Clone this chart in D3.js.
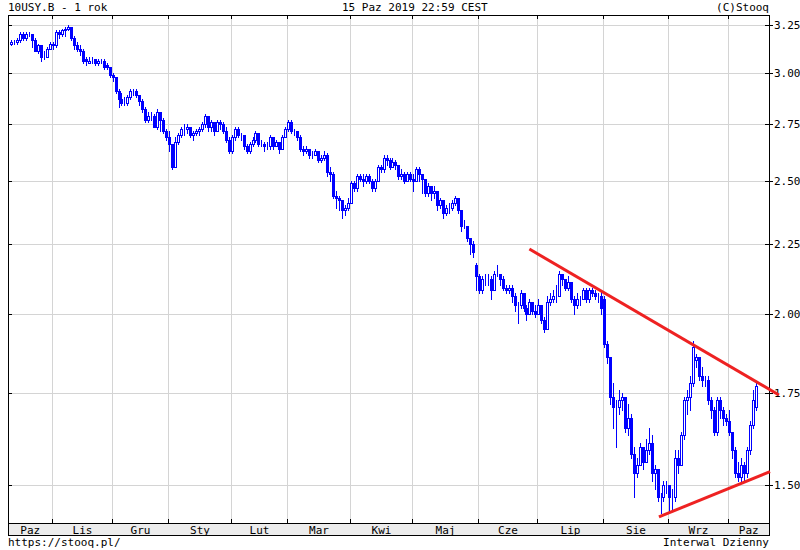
<!DOCTYPE html>
<html><head><meta charset="utf-8">
<script src="https://cdn.jsdelivr.net/npm/d3@7/dist/d3.min.js"></script>
<style>
body{margin:0;background:#fff}
svg{display:block}
text{font-family:"DejaVu Sans Mono",monospace;font-size:11px;fill:#000}
</style>
</head><body>
<svg id="chart" width="800" height="550"></svg>
<script>
// ---- data ----
const title = "10USY.B - 1 rok";
const stamp = "15 Paz 2019 22:59 CEST";
const copyright = "(C)Stooq";
const footerLeft = "https://stooq.pl/";
const footerRight = "Interwal Dzienny";
const startDate = "2018-10-12", endDate = "2019-10-15";
const holidays = ["2018-11-12","2018-11-22","2018-12-05","2018-12-25","2019-01-01","2019-01-21",
  "2019-02-18","2019-04-19","2019-05-27","2019-07-04","2019-09-02","2019-10-14"];
const monthLabels = ["Sty","Lut","Mar","Kwi","Maj","Cze","Lip","Sie","Wrz","Paz","Lis","Gru"];
const yTicks = [1.50,1.75,2.00,2.25,2.50,2.75,3.00,3.25];

const open = [
 3.15,3.16,3.16,3.17,3.20,3.18,3.20,3.20,3.17,3.11,3.14,3.08,3.08,3.12,
 3.15,3.14,3.21,3.20,3.22,3.23,3.24,3.18,3.14,3.12,3.11,3.07,3.05,3.06,3.07,3.05,3.06,3.06,3.04,3.03,
 2.99,2.98,2.91,2.87,2.85,2.85,2.88,2.91,2.91,2.89,2.86,2.82,2.77,2.79,2.79,2.74,2.81,2.77,2.72,
 2.69,2.66,2.56,2.67,2.70,2.73,2.73,2.74,2.70,2.71,2.72,2.73,2.75,2.79,2.74,2.76,2.72,2.76,2.75,2.72,2.68,
 2.63,2.69,2.73,2.70,2.70,2.65,2.63,2.66,2.68,2.71,2.66,2.66,2.65,2.65,2.69,2.65,2.67,2.64,2.69,
 2.73,2.76,2.72,2.72,2.69,2.64,2.63,2.64,2.61,2.61,2.63,2.59,2.60,2.61,2.54,2.53,2.44,2.43,2.42,2.38,2.39,
 2.41,2.49,2.47,2.52,2.51,2.50,2.52,2.50,2.47,2.50,2.56,2.55,2.60,2.59,2.56,2.58,2.57,2.52,2.53,2.50,2.53,
 2.51,2.50,2.55,2.53,2.51,2.45,2.48,2.45,2.46,2.40,2.42,2.37,2.39,2.39,2.41,2.43,2.38,2.32,2.32,2.27,2.25,2.17,
 2.13,2.08,2.12,2.12,2.12,2.08,2.14,2.14,2.12,2.09,2.08,2.09,2.06,2.03,2.03,2.07,2.02,2.00,2.04,2.01,
 2.00,2.03,1.98,1.95,2.04,2.05,2.06,2.06,2.14,2.12,2.09,2.11,2.05,2.03,2.05,2.05,2.08,2.05,2.08,2.07,2.06,2.06,
 2.05,1.90,1.86,1.74,1.71,1.71,1.73,1.74,1.65,1.68,1.58,1.53,1.55,1.60,1.56,1.59,1.61,1.53,1.54,1.47,1.47,1.50,
 1.50,1.47,1.47,1.57,1.55,1.63,1.73,1.74,1.78,1.85,1.86,1.80,1.79,1.79,1.73,1.70,1.64,1.73,1.70,1.68,
 1.67,1.64,1.59,1.53,1.52,1.55,1.53,1.59,1.66,1.71
];
const high = [
 3.17,3.17,3.18,3.21,3.21,3.21,3.21,3.20,3.18,3.15,3.14,3.11,3.13,3.16,
 3.16,3.22,3.22,3.23,3.24,3.25,3.24,3.19,3.16,3.14,3.12,3.08,3.08,3.08,3.07,3.07,3.07,3.07,3.05,3.03,
 3.00,2.98,2.92,2.90,2.88,2.89,2.92,2.92,2.92,2.89,2.87,2.83,2.81,2.81,2.80,2.82,2.81,2.78,2.73,
 2.72,2.66,2.69,2.71,2.74,2.75,2.75,2.74,2.72,2.73,2.74,2.76,2.80,2.79,2.77,2.76,2.77,2.77,2.76,2.74,2.69,
 2.70,2.74,2.74,2.71,2.70,2.66,2.67,2.69,2.72,2.71,2.68,2.67,2.67,2.70,2.69,2.68,2.67,2.70,2.74,
 2.77,2.77,2.73,2.72,2.70,2.65,2.65,2.64,2.63,2.64,2.63,2.61,2.63,2.62,2.56,2.54,2.46,2.44,2.42,2.40,2.43,
 2.50,2.50,2.53,2.53,2.53,2.53,2.53,2.51,2.51,2.57,2.57,2.61,2.61,2.60,2.60,2.59,2.57,2.55,2.54,2.54,2.54,
 2.53,2.56,2.56,2.53,2.51,2.49,2.48,2.48,2.46,2.43,2.42,2.40,2.41,2.42,2.44,2.43,2.38,2.34,2.32,2.27,2.26,2.18,
 2.14,2.13,2.14,2.14,2.13,2.15,2.17,2.14,2.13,2.10,2.10,2.10,2.07,2.04,2.08,2.07,2.03,2.05,2.04,2.03,
 2.05,2.03,1.99,2.06,2.07,2.08,2.10,2.15,2.14,2.12,2.13,2.11,2.06,2.07,2.06,2.09,2.09,2.09,2.09,2.08,2.07,2.08,
 2.06,1.91,1.86,1.78,1.73,1.76,1.75,1.74,1.72,1.69,1.60,1.57,1.61,1.60,1.62,1.65,1.63,1.55,1.54,1.48,1.51,1.51,
 1.50,1.49,1.59,1.59,1.64,1.74,1.76,1.80,1.91,1.87,1.86,1.83,1.80,1.80,1.74,1.71,1.74,1.74,1.71,1.69,
 1.70,1.64,1.60,1.56,1.57,1.56,1.60,1.67,1.76,1.78
];
const low = [
 3.14,3.15,3.15,3.16,3.17,3.17,3.19,3.13,3.11,3.10,3.06,3.07,3.08,3.12,
 3.12,3.13,3.18,3.19,3.19,3.22,3.17,3.12,3.11,3.09,3.05,3.04,3.05,3.05,3.04,3.04,3.05,3.02,3.02,2.98,
 2.96,2.90,2.83,2.84,2.84,2.84,2.87,2.89,2.88,2.84,2.81,2.76,2.76,2.77,2.74,2.73,2.72,2.71,2.68,
 2.63,2.55,2.56,2.66,2.69,2.70,2.71,2.69,2.68,2.70,2.70,2.72,2.74,2.72,2.72,2.70,2.72,2.73,2.71,2.67,2.62,
 2.62,2.68,2.69,2.68,2.64,2.62,2.62,2.65,2.67,2.65,2.65,2.63,2.64,2.64,2.64,2.65,2.62,2.64,2.69,
 2.72,2.71,2.70,2.68,2.63,2.61,2.62,2.60,2.60,2.61,2.58,2.58,2.59,2.52,2.50,2.43,2.39,2.38,2.35,2.36,2.38,
 2.41,2.46,2.46,2.50,2.48,2.49,2.49,2.46,2.46,2.50,2.54,2.54,2.57,2.55,2.56,2.55,2.51,2.51,2.49,2.50,2.50,
 2.46,2.50,2.50,2.45,2.44,2.44,2.42,2.43,2.38,2.39,2.35,2.36,2.37,2.38,2.40,2.37,2.30,2.31,2.26,2.21,2.20,2.08,
 2.07,2.07,2.10,2.10,2.05,2.08,2.13,2.10,2.08,2.07,2.07,2.04,2.01,1.97,2.02,2.01,1.98,2.00,2.00,1.99,
 2.00,1.97,1.94,1.95,2.03,2.04,2.04,2.06,2.10,2.08,2.08,2.04,2.00,2.02,2.03,2.05,2.04,2.04,2.06,2.05,2.04,2.00,
 1.89,1.84,1.72,1.65,1.60,1.69,1.70,1.64,1.63,1.57,1.47,1.52,1.55,1.54,1.56,1.58,1.51,1.49,1.46,1.43,1.46,1.48,
 1.43,1.44,1.46,1.53,1.55,1.62,1.69,1.70,1.77,1.83,1.79,1.77,1.77,1.72,1.68,1.63,1.63,1.68,1.66,1.66,
 1.63,1.57,1.52,1.51,1.51,1.51,1.52,1.58,1.65,1.70
];
const close = [
 3.16,3.16,3.17,3.20,3.18,3.20,3.20,3.17,3.11,3.14,3.08,3.08,3.12,3.15,
 3.14,3.21,3.20,3.22,3.23,3.24,3.18,3.14,3.12,3.11,3.06,3.06,3.06,3.06,3.05,3.06,3.06,3.03,3.03,2.99,
 2.98,2.91,2.87,2.85,2.85,2.88,2.91,2.91,2.89,2.86,2.82,2.77,2.79,2.79,2.74,2.81,2.77,2.72,2.69,
 2.66,2.56,2.67,2.70,2.73,2.73,2.74,2.70,2.71,2.72,2.73,2.75,2.79,2.74,2.76,2.72,2.76,2.75,2.72,2.68,2.63,
 2.69,2.73,2.70,2.70,2.65,2.63,2.66,2.68,2.71,2.66,2.66,2.65,2.65,2.69,2.65,2.67,2.64,2.69,2.73,
 2.76,2.72,2.72,2.69,2.64,2.63,2.64,2.61,2.61,2.63,2.59,2.60,2.61,2.54,2.53,2.44,2.43,2.42,2.38,2.39,2.41,
 2.49,2.47,2.52,2.51,2.50,2.52,2.50,2.47,2.50,2.56,2.55,2.60,2.59,2.56,2.58,2.57,2.52,2.53,2.50,2.53,2.51,
 2.50,2.55,2.53,2.51,2.45,2.48,2.45,2.46,2.40,2.42,2.37,2.39,2.39,2.41,2.43,2.38,2.32,2.32,2.27,2.25,2.22,2.13,
 2.08,2.12,2.12,2.12,2.08,2.14,2.14,2.12,2.09,2.08,2.09,2.06,2.03,2.03,2.07,2.02,2.00,2.04,2.01,2.00,
 2.03,1.98,1.95,2.04,2.05,2.06,2.06,2.14,2.12,2.09,2.11,2.05,2.03,2.05,2.05,2.08,2.05,2.08,2.07,2.06,2.06,2.02,
 1.90,1.86,1.74,1.71,1.71,1.73,1.74,1.65,1.68,1.58,1.53,1.55,1.60,1.56,1.59,1.61,1.53,1.54,1.47,1.47,1.50,1.50,
 1.47,1.47,1.57,1.55,1.63,1.73,1.74,1.78,1.89,1.86,1.80,1.79,1.79,1.73,1.70,1.64,1.73,1.70,1.68,1.67,
 1.64,1.59,1.53,1.52,1.55,1.53,1.59,1.66,1.73,1.77
];
// trend lines drawn on the chart: position in bar units, value in %
const trendStart = [174.3, 217.8];
const trendStartVal = [2.230, 1.4215];
const trendEnd = [258.1, 255.1];
const trendEndVal = [1.745, 1.534];

// ---- layout ----
const W = 800, H = 550;
const L = 8, R = 769, T = 15, B = 523, BB = 535;
const X0 = 10.3, X1 = 757.8;
const blue = "#0000ff", grid = "#d4d4d4", red = "#ee2222";

const parse = d3.utcParse("%Y-%m-%d"), fmt = d3.utcFormat("%Y-%m-%d");
const dates = d3.utcDays(parse(startDate), d3.utcDay.offset(parse(endDate), 1))
  .filter(d => d.getUTCDay() % 6 !== 0 && !holidays.includes(fmt(d)));
const N = dates.length;
const bars = dates.map((d, i) => ({i, date: d, o: open[i], h: high[i], l: low[i], c: close[i]}));

const svg = d3.select("#chart");
const x = d3.scaleBand().domain(d3.range(N)).range([X0, X1]).padding(0);
const xLin = d3.scaleLinear().domain([0, N]).range([X0, X1]);
const y = d3.scaleLog().domain([1.407, 3.305]).range([B, T]);

svg.append("rect").attr("width", W).attr("height", H).attr("fill", "#fff");

// month boundaries
const bounds = [];
for (let i = 1; i < N; i++) if (dates[i].getUTCMonth() !== dates[i-1].getUTCMonth()) bounds.push(i);
const bx = bounds.map(i => Math.round(x(i)) + 0.5);

// grid
const g = svg.append("g").attr("shape-rendering", "crispEdges");
g.selectAll(".hg").data(yTicks).join("line")
  .attr("x1", L).attr("x2", R)
  .attr("y1", d => Math.round(y(d)) + 0.5).attr("y2", d => Math.round(y(d)) + 0.5)
  .attr("stroke", grid);
g.selectAll(".vg").data(bx).join("line")
  .attr("x1", d => d).attr("x2", d => d).attr("y1", T).attr("y2", B)
  .attr("stroke", grid);

// month band
g.append("rect").attr("x", L + 0.5).attr("y", B + 0.5).attr("width", R - L).attr("height", BB - B)
  .attr("fill", "#ececec").attr("stroke", "#000");

// month labels
const segs = [L, ...bx, R];
const segMonths = [dates[0], ...bounds.map(i => dates[i])].map(d => d.getUTCMonth());
svg.selectAll(".ml").data(segMonths).join("text")
  .attr("x", (m, k) => (segs[k] + segs[k+1]) / 2)
  .attr("y", B + 10.5)
  .attr("text-anchor", "middle")
  .text(m => monthLabels[m]);

// ticks
g.selectAll(".tt").data(bx).join("line")
  .attr("x1", d => d).attr("x2", d => d).attr("y1", T).attr("y2", T + 4).attr("stroke", "#000");
g.selectAll(".bt").data(bx).join("line")
  .attr("x1", d => d).attr("x2", d => d).attr("y1", B - 4).attr("y2", B).attr("stroke", "#000");
g.selectAll(".lt").data(yTicks).join("line")
  .attr("x1", L).attr("x2", L + 4)
  .attr("y1", d => Math.round(y(d)) + 0.5).attr("y2", d => Math.round(y(d)) + 0.5).attr("stroke", "#000");
g.selectAll(".rt").data(yTicks).join("line")
  .attr("x1", R - 4).attr("x2", R + 4)
  .attr("y1", d => Math.round(y(d)) + 0.5).attr("y2", d => Math.round(y(d)) + 0.5).attr("stroke", "#000");

// frame
g.append("line").attr("x1", L + 0.5).attr("x2", L + 0.5).attr("y1", T).attr("y2", B).attr("stroke", "#000");
g.append("line").attr("x1", L).attr("x2", R + 1).attr("y1", T + 0.5).attr("y2", T + 0.5).attr("stroke", "#000");
g.append("line").attr("x1", R + 0.5).attr("x2", R + 0.5).attr("y1", T).attr("y2", BB + 1).attr("stroke", "#000");

// y labels
svg.selectAll(".yl").data(yTicks).join("text")
  .attr("x", R + 5).attr("y", d => Math.round(y(d)) + 4)
  .text(d => d3.format(".2f")(d));

// candles
const cg = svg.append("g").attr("shape-rendering", "crispEdges");
const cx = d => Math.round(x(d.i) + x.bandwidth() / 2 - 0.5);
cg.selectAll(".wick").data(bars).join("line")
  .attr("x1", d => cx(d) + 0.5).attr("x2", d => cx(d) + 0.5)
  .attr("y1", d => Math.round(y(d.h))).attr("y2", d => Math.round(y(d.l)) + 1)
  .attr("stroke", blue);
cg.selectAll(".down").data(bars.filter(d => d.c < d.o)).join("rect")
  .attr("x", d => cx(d) - 1).attr("width", 3)
  .attr("y", d => Math.round(y(d.o)))
  .attr("height", d => Math.max(1, Math.round(y(d.c)) - Math.round(y(d.o)) + 1))
  .attr("fill", blue);
cg.selectAll(".up").data(bars.filter(d => d.c >= d.o)).join("rect")
  .attr("x", d => cx(d) - 0.5).attr("width", 2)
  .attr("y", d => Math.round(y(d.c)) + 0.5)
  .attr("height", d => Math.max(0, Math.round(y(d.o)) - Math.round(y(d.c))))
  .attr("fill", "#fff").attr("stroke", blue);

// trend lines
svg.selectAll(".trend").data(d3.range(trendStart.length)).join("line")
  .attr("x1", k => xLin(trendStart[k])).attr("y1", k => y(trendStartVal[k]))
  .attr("x2", k => xLin(trendEnd[k])).attr("y2", k => y(trendEndVal[k]))
  .attr("stroke", red).attr("stroke-width", 3);

// header / footer texts
svg.append("text").attr("x", L).attr("y", 11).text(title);
svg.append("text").attr("x", 342).attr("y", 11).text(stamp);
svg.append("text").attr("x", R).attr("y", 11).attr("text-anchor", "end").text(copyright);
svg.append("text").attr("x", L).attr("y", 546).text(footerLeft);
svg.append("text").attr("x", R).attr("y", 546).attr("text-anchor", "end").text(footerRight);
</script>
</body></html>
